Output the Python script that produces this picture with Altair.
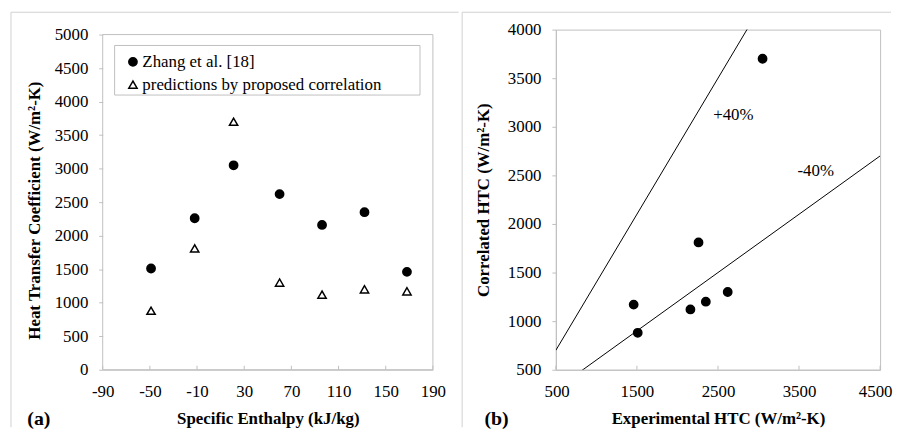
import altair as alt
import pandas as pd

# ---------------- data ----------------
enthalpy = [-49, -12, 21, 60, 96, 132, 168]
htc_zhang = [1510, 2260, 3050, 2620, 2160, 2350, 1460]
htc_pred = [880, 1810, 3700, 1300, 1120, 1200, 1170]
series = ["Zhang et al. [18]", "predictions by proposed correlation"]

x_dom_a = [-90, 190]
y_dom_a = [0, 5000]
x_ticks_a = [-90, -50, -10, 30, 70, 110, 150, 190]
y_ticks_a = [0, 500, 1000, 1500, 2000, 2500, 3000, 3500, 4000, 4500, 5000]
x_ticks_b = [500, 1500, 2500, 3500, 4500]
y_ticks_b = [500, 1000, 1500, 2000, 2500, 3000, 3500, 4000]

band_names = ["+40%", "-40%"]
band_x = [500, 4500]
band_plus_y = [700, 6300]
band_minus_y = [300, 2700]
band_label_x = [2441, 3481]
band_label_y = [3122, 2541]

# ---------------- style ----------------
FONT = "Liberation Serif"
GREY = "#bfbfbf"
FRAME = "#d0d0d0"
WA, HA = 333, 343
WB, HB = 327, 343
# left panel: 5000 sits 5 px below the top of the panel area
Y_TOP_A = 5000 + 5 * 5000 / 338
LABEL_EXPR = "'' + datum.value"

common_axis = dict(labelExpr=LABEL_EXPR, labelFont=FONT, titleFont=FONT,
                   labelOverlap=False)

x_scale_a = alt.Scale(domain=x_dom_a, nice=False, zero=False)
y_scale_a = alt.Scale(domain=[0, Y_TOP_A], nice=False, zero=False)
x_axis_a = alt.Axis(values=x_ticks_a, title="Specific Enthalpy (kJ/kg)", **common_axis,
                    labelFlush=False, ticks=False, tickSize=0, labelPadding=14, titlePadding=11)
y_axis_a = alt.Axis(values=y_ticks_a, title="Heat Transfer Coefficient (W/m²-K)", **common_axis,
                    labelFlush=False, domain=False, tickSize=4, labelPadding=11,
                    titlePadding=11, titleY=182)

df_a = pd.DataFrame({
    "enthalpy": enthalpy * 2,
    "htc": htc_zhang + htc_pred,
    "series": [series[0]] * len(enthalpy) + [series[1]] * len(enthalpy),
})

leg = dict(
    orient="none", legendX=22, legendY=24, title=None, padding=0, rowPadding=5,
    labelFont=FONT, labelFontSize=17, labelColor="black", labelLimit=400,
    symbolSize=70, symbolStrokeWidth=1.5, symbolOffset=0, labelOffset=1,
)

points_a = alt.Chart(df_a).mark_point(
    filled=True, strokeWidth=1.5, opacity=1, size=70
).encode(
    x=alt.X("enthalpy:Q", scale=x_scale_a, axis=x_axis_a),
    y=alt.Y("htc:Q", scale=y_scale_a, axis=y_axis_a),
    shape=alt.Shape("series:N", sort=series,
                    scale=alt.Scale(domain=series, range=["circle", "triangle-up"]),
                    legend=alt.Legend(**leg)),
    fill=alt.Fill("series:N", sort=series,
                  scale=alt.Scale(domain=series, range=["black", "white"]),
                  legend=alt.Legend(**leg)),
    stroke=alt.Stroke("series:N", sort=series,
                      scale=alt.Scale(domain=series, range=["black", "black"]),
                      legend=alt.Legend(**leg)),
)

plot_frame_a = alt.Chart(pd.DataFrame({"enthalpy": [x_dom_a[0]], "x2": [x_dom_a[1]],
                                       "htc": [y_dom_a[0]], "y2": [y_dom_a[1]]})).mark_rect(
    fill=None, stroke=GREY, strokeWidth=1
).encode(x=alt.X("enthalpy:Q", scale=x_scale_a, axis=x_axis_a), x2="x2:Q",
         y=alt.Y("htc:Q", scale=y_scale_a, axis=y_axis_a), y2="y2:Q")

legend_box = alt.Chart(pd.DataFrame({"k": [0]})).mark_rect(
    fill="white", stroke=GREY, strokeWidth=1
).encode(x=alt.value(12), x2=alt.value(320), y=alt.value(16), y2=alt.value(66))

ticks_a = alt.Chart(pd.DataFrame({"enthalpy": x_ticks_a})).mark_rule(
    color=GREY, strokeWidth=1
).encode(x=alt.X("enthalpy:Q", scale=x_scale_a, axis=x_axis_a),
         y=alt.value(HA - 4), y2=alt.value(HA))

one = pd.DataFrame({"k": [0]})
frame_a = alt.layer(
    alt.Chart(one).mark_rule(color=FRAME, strokeWidth=1).encode(
        x=alt.value(-92.5), x2=alt.value(359), y=alt.value(-17.5)),
    alt.Chart(one).mark_rule(color=FRAME, strokeWidth=1).encode(
        x=alt.value(-92.5), y=alt.value(-17.5), y2=alt.value(401)),
)

tag_a = alt.Chart(pd.DataFrame({"t": ["(a)"]})).mark_text(
    font=FONT, fontSize=20, fontWeight="bold", align="left", baseline="middle", color="black"
).encode(x=alt.value(-76), y=alt.value(393), text="t:N")

left = alt.layer(points_a, plot_frame_a, legend_box, ticks_a, frame_a, tag_a).properties(
    width=WA, height=HA, view=alt.ViewBackground(stroke=None))

# ---------------- right panel ----------------
df_b = pd.DataFrame({"exp": htc_zhang, "corr": htc_pred})
df_lines = pd.DataFrame({
    "exp": band_x + band_x,
    "corr": band_plus_y + band_minus_y,
    "band": [band_names[0]] * 2 + [band_names[1]] * 2,
})
df_lab = pd.DataFrame({"exp": band_label_x, "corr": band_label_y, "label": band_names})

xb = alt.X("exp:Q", scale=alt.Scale(domain=[500, 4500], nice=False, zero=False),
           axis=alt.Axis(values=x_ticks_b, title="Experimental HTC (W/m²-K)", **common_axis,
                         labelFlush=True, labelFlushOffset=12,
                         ticks=False, tickSize=0, labelPadding=14, titlePadding=11))
yb = alt.Y("corr:Q", scale=alt.Scale(domain=[500, 4000], nice=False, zero=False),
           axis=alt.Axis(values=y_ticks_b, title="Correlated HTC (W/m²-K)", **common_axis,
                         labelFlush=False, tickSize=4, labelPadding=11, titlePadding=15))

lines_b = alt.Chart(df_lines).mark_line(color="black", strokeWidth=1, clip=True).encode(
    x=xb, y=yb, detail="band:N")
points_b = alt.Chart(df_b).mark_point(
    filled=True, color="black", stroke="black", strokeWidth=1.5, opacity=1, size=70
).encode(x="exp:Q", y="corr:Q")
labels_b = alt.Chart(df_lab).mark_text(
    font=FONT, fontSize=17, align="left", baseline="middle", color="black"
).encode(x="exp:Q", y="corr:Q", text="label:N")
ticks_b = alt.Chart(pd.DataFrame({"exp": x_ticks_b})).mark_rule(
    color=GREY, strokeWidth=1
).encode(x="exp:Q", y=alt.value(HB - 4), y2=alt.value(HB))

frame_b = alt.layer(
    alt.Chart(one).mark_rule(color=FRAME, strokeWidth=1).encode(
        x=alt.value(-94.5), x2=alt.value(338), y=alt.value(-17.5)),
    alt.Chart(one).mark_rule(color=FRAME, strokeWidth=1).encode(
        x=alt.value(-94.5), y=alt.value(-17.5), y2=alt.value(401)),
)
tag_b = alt.Chart(pd.DataFrame({"t": ["(b)"]})).mark_text(
    font=FONT, fontSize=20, fontWeight="bold", align="left", baseline="middle", color="black"
).encode(x=alt.value(-72), y=alt.value(393), text="t:N")

right = alt.layer(lines_b, points_b, labels_b, ticks_b, frame_b, tag_b).properties(
    width=WB, height=HB, view=alt.ViewBackground(stroke=GREY, strokeWidth=1))

chart = alt.hconcat(left, right, spacing=1).properties(
    padding={"left": 2.5, "top": 1, "right": 0, "bottom": 0}
).configure(font=FONT).configure_view(
    stroke=GREY, strokeWidth=1
).configure_axis(
    grid=False, domainColor=GREY, tickColor=GREY,
    labelFont=FONT, labelFontSize=17, labelColor="black",
    titleFont=FONT, titleFontSize=17, titleFontWeight="bold", titleColor="black",
).configure_legend(labelFont=FONT).configure_text(font=FONT)

chart.save("out.html", embed_options={"renderer": "svg", "actions": False})
